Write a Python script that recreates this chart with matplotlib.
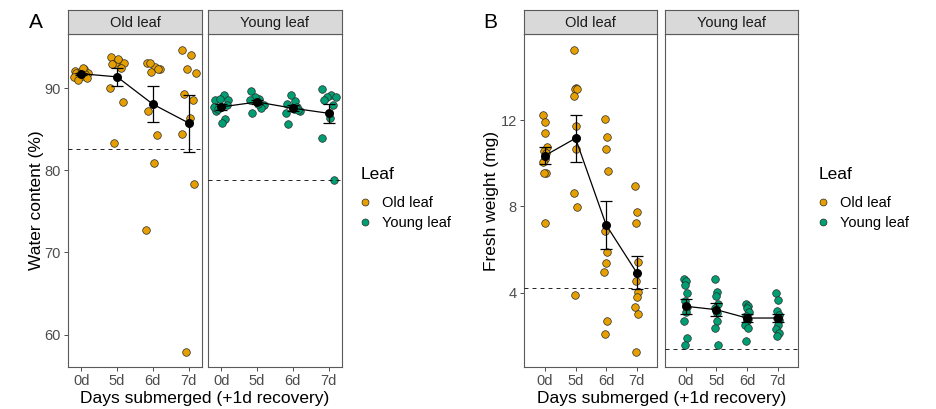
import numpy as np
import matplotlib.pyplot as plt
from matplotlib.lines import Line2D

plt.rcParams['font.family'] = ['Liberation Sans', 'DejaVu Sans']

W, H = 937, 409

days = ['0d', '5d', '6d', '7d']
leaves = ['Old leaf', 'Young leaf']
leaf_colors = {'Old leaf': '#E69F00', 'Young leaf': '#009E73'}

# Water content (%), one list per day
water_old = [
    [92.1, 92.3, 92.0, 91.9, 91.8, 91.7, 91.5, 91.4, 91.2, 91.0, 92.4],
    [93.8, 93.3, 93.1, 93.0, 92.9, 92.5, 93.5, 90.0, 88.3, 83.3],
    [93.1, 92.6, 92.0, 92.3, 87.2, 84.3, 80.9, 72.7, 92.3, 93.0],
    [94.6, 94.0, 92.3, 91.8, 89.3, 88.5, 86.4, 84.4, 78.3, 57.9],
]
water_young = [
    [88.5, 89.2, 88.7, 88.5, 87.2, 86.2, 85.7, 87.7, 87.9, 87.5],
    [89.7, 88.7, 88.9, 88.0, 87.0, 87.6, 88.1, 88.5],
    [88.1, 88.4, 89.2, 87.2, 85.6, 87.7, 87.5, 87.0, 87.3],
    [89.9, 89.2, 88.9, 88.9, 88.5, 87.9, 86.4, 83.9, 78.8],
]
water_ref = [82.6, 78.8]

# Fresh weight (mg), one list per day
weight_old = [
    [12.23, 11.89, 11.38, 10.77, 10.58, 10.46, 10.18, 10.07, 9.53, 9.56, 7.25],
    [15.24, 13.47, 13.42, 13.45, 13.11, 11.72, 10.64, 8.63, 7.96, 3.91],
    [12.03, 11.23, 10.66, 9.65, 6.87, 5.90, 5.37, 4.98, 2.71, 2.09],
    [8.96, 7.73, 7.25, 5.41, 4.55, 4.02, 3.82, 3.36, 3.00, 1.27],
]
weight_young = [
    [4.62, 4.55, 4.36, 3.98, 3.60, 3.36, 3.13, 2.71, 1.89, 1.58],
    [4.62, 4.05, 3.85, 3.48, 3.28, 3.05, 2.71, 2.36, 1.58],
    [3.48, 3.40, 3.28, 3.13, 2.93, 2.77, 2.70, 2.50, 2.36, 1.78],
    [4.00, 3.67, 3.17, 2.97, 2.85, 2.74, 2.51, 2.31, 2.12, 2.00],
]
weight_ref = [4.21, 1.38]

# fixed jitter pattern (fraction of jitter width)
JITTER = np.array([-0.8, 0.3, -0.2, 0.9, -0.6, 0.5, 0.1, -0.9, 0.7, -0.4, 0.2])

fig = plt.figure(figsize=(W / 100, H / 100), dpi=100)


def add_px_axes(x0, x1, y0, y1):
    return fig.add_axes([x0 / W, 1 - y1 / H, (x1 - x0) / W, (y1 - y0) / H])


def style_frame(ax):
    for s in ax.spines.values():
        s.set_color('#5a5a5a')
        s.set_linewidth(0.8)


def draw_facet(ax, groups, color, ref, jit):
    for i, vals in enumerate(groups):
        offs = np.resize(JITTER, len(vals)) * jit
        ax.scatter(i + offs, vals, s=30, c=color, edgecolors='#2a2a2a',
                   linewidths=0.5, zorder=2)
    x = np.arange(len(groups))
    means = np.array([np.mean(v) for v in groups])
    ses = np.array([np.std(v, ddof=1) / np.sqrt(len(v)) for v in groups])
    ax.plot(x, means, color='black', lw=0.9, zorder=3)
    ax.errorbar(x, means, yerr=ses, fmt='none', ecolor='black',
                elinewidth=0.9, capsize=4.6, capthick=0.9, zorder=3)
    ax.scatter(x, means, s=30, c='black', zorder=4)
    ax.axhline(ref, color='black', lw=0.6, ls=(0, (4.8, 4.8)), zorder=5)


def draw_panel(xs, data, refs, ylim, yticks, xlim, jit, ylabel, ylabel_x, tag,
               leg_x):
    axes = []
    for k, (x0, x1) in enumerate(xs):
        ax = add_px_axes(x0, x1, 34.3, 366.7)
        draw_facet(ax, data[k], leaf_colors[leaves[k]], refs[k], jit)
        ax.set_xlim(*xlim)
        ax.set_ylim(*ylim)
        ax.set_xticks(range(len(days)))
        ax.set_xticklabels(days)
        ax.set_yticks(yticks)
        ax.tick_params(colors='#4d4d4d', labelcolor='#4d4d4d', labelsize=10.5,
                       length=3, width=0.7, pad=2.5)
        if k > 0:
            ax.tick_params(axis='y', left=False, labelleft=False)
        style_frame(ax)

        # facet strip
        st = add_px_axes(x0, x1, 10, 34.3)
        st.set_facecolor('#d9d9d9')
        st.set_xticks([])
        st.set_yticks([])
        style_frame(st)
        st.text(0.5, 0.48, leaves[k], ha='center', va='center', fontsize=10.5,
                color='#1a1a1a', transform=st.transAxes)
        axes.append(ax)

    x0, x1 = xs[0]
    axes[0].set_ylabel(ylabel, fontsize=12.5)
    axes[0].yaxis.set_label_coords((ylabel_x - x0) / (x1 - x0), 0.5)
    mid = (xs[0][0] + xs[1][1]) / 2
    fig.text(mid / W, 1 - 398.5 / H, 'Days submerged (+1d recovery)',
             ha='center', va='center', fontsize=12.5)
    fig.text(tag[0] / W, 1 - tag[1] / H, tag[2], ha='center', va='center',
             fontsize=15)

    fig.text(leg_x / W, 1 - 175 / H, 'Leaf', ha='left', va='center',
             fontsize=12.5)
    handles = [Line2D([], [], ls='none', marker='o', markersize=5,
                      markerfacecolor=leaf_colors[l], markeredgecolor='#2a2a2a',
                      markeredgewidth=0.5) for l in leaves]
    fig.legend(handles, leaves, loc='upper left',
               bbox_to_anchor=(leg_x / W, 1 - 196 / H),
               frameon=False, fontsize=10.5, handlelength=0.6,
               handletextpad=0.85, labelspacing=0.42, borderpad=0,
               borderaxespad=0)


draw_panel([(68.3, 201.7), (208.3, 341.7)], [water_old, water_young], water_ref,
           (56.1, 96.55), [60, 70, 80, 90], (-0.36, 3.36), 0.22,
           'Water content (%)', 44, (36, 23, 'A'), 361)

draw_panel([(524.3, 657.3), (665, 798.3)], [weight_old, weight_young], weight_ref,
           (0.58, 15.97), [4, 8, 12], (-0.675, 3.675), 0.06,
           'Fresh weight (mg)', 499, (490, 23, 'B'), 819)

fig.savefig('out.png', dpi=100)
